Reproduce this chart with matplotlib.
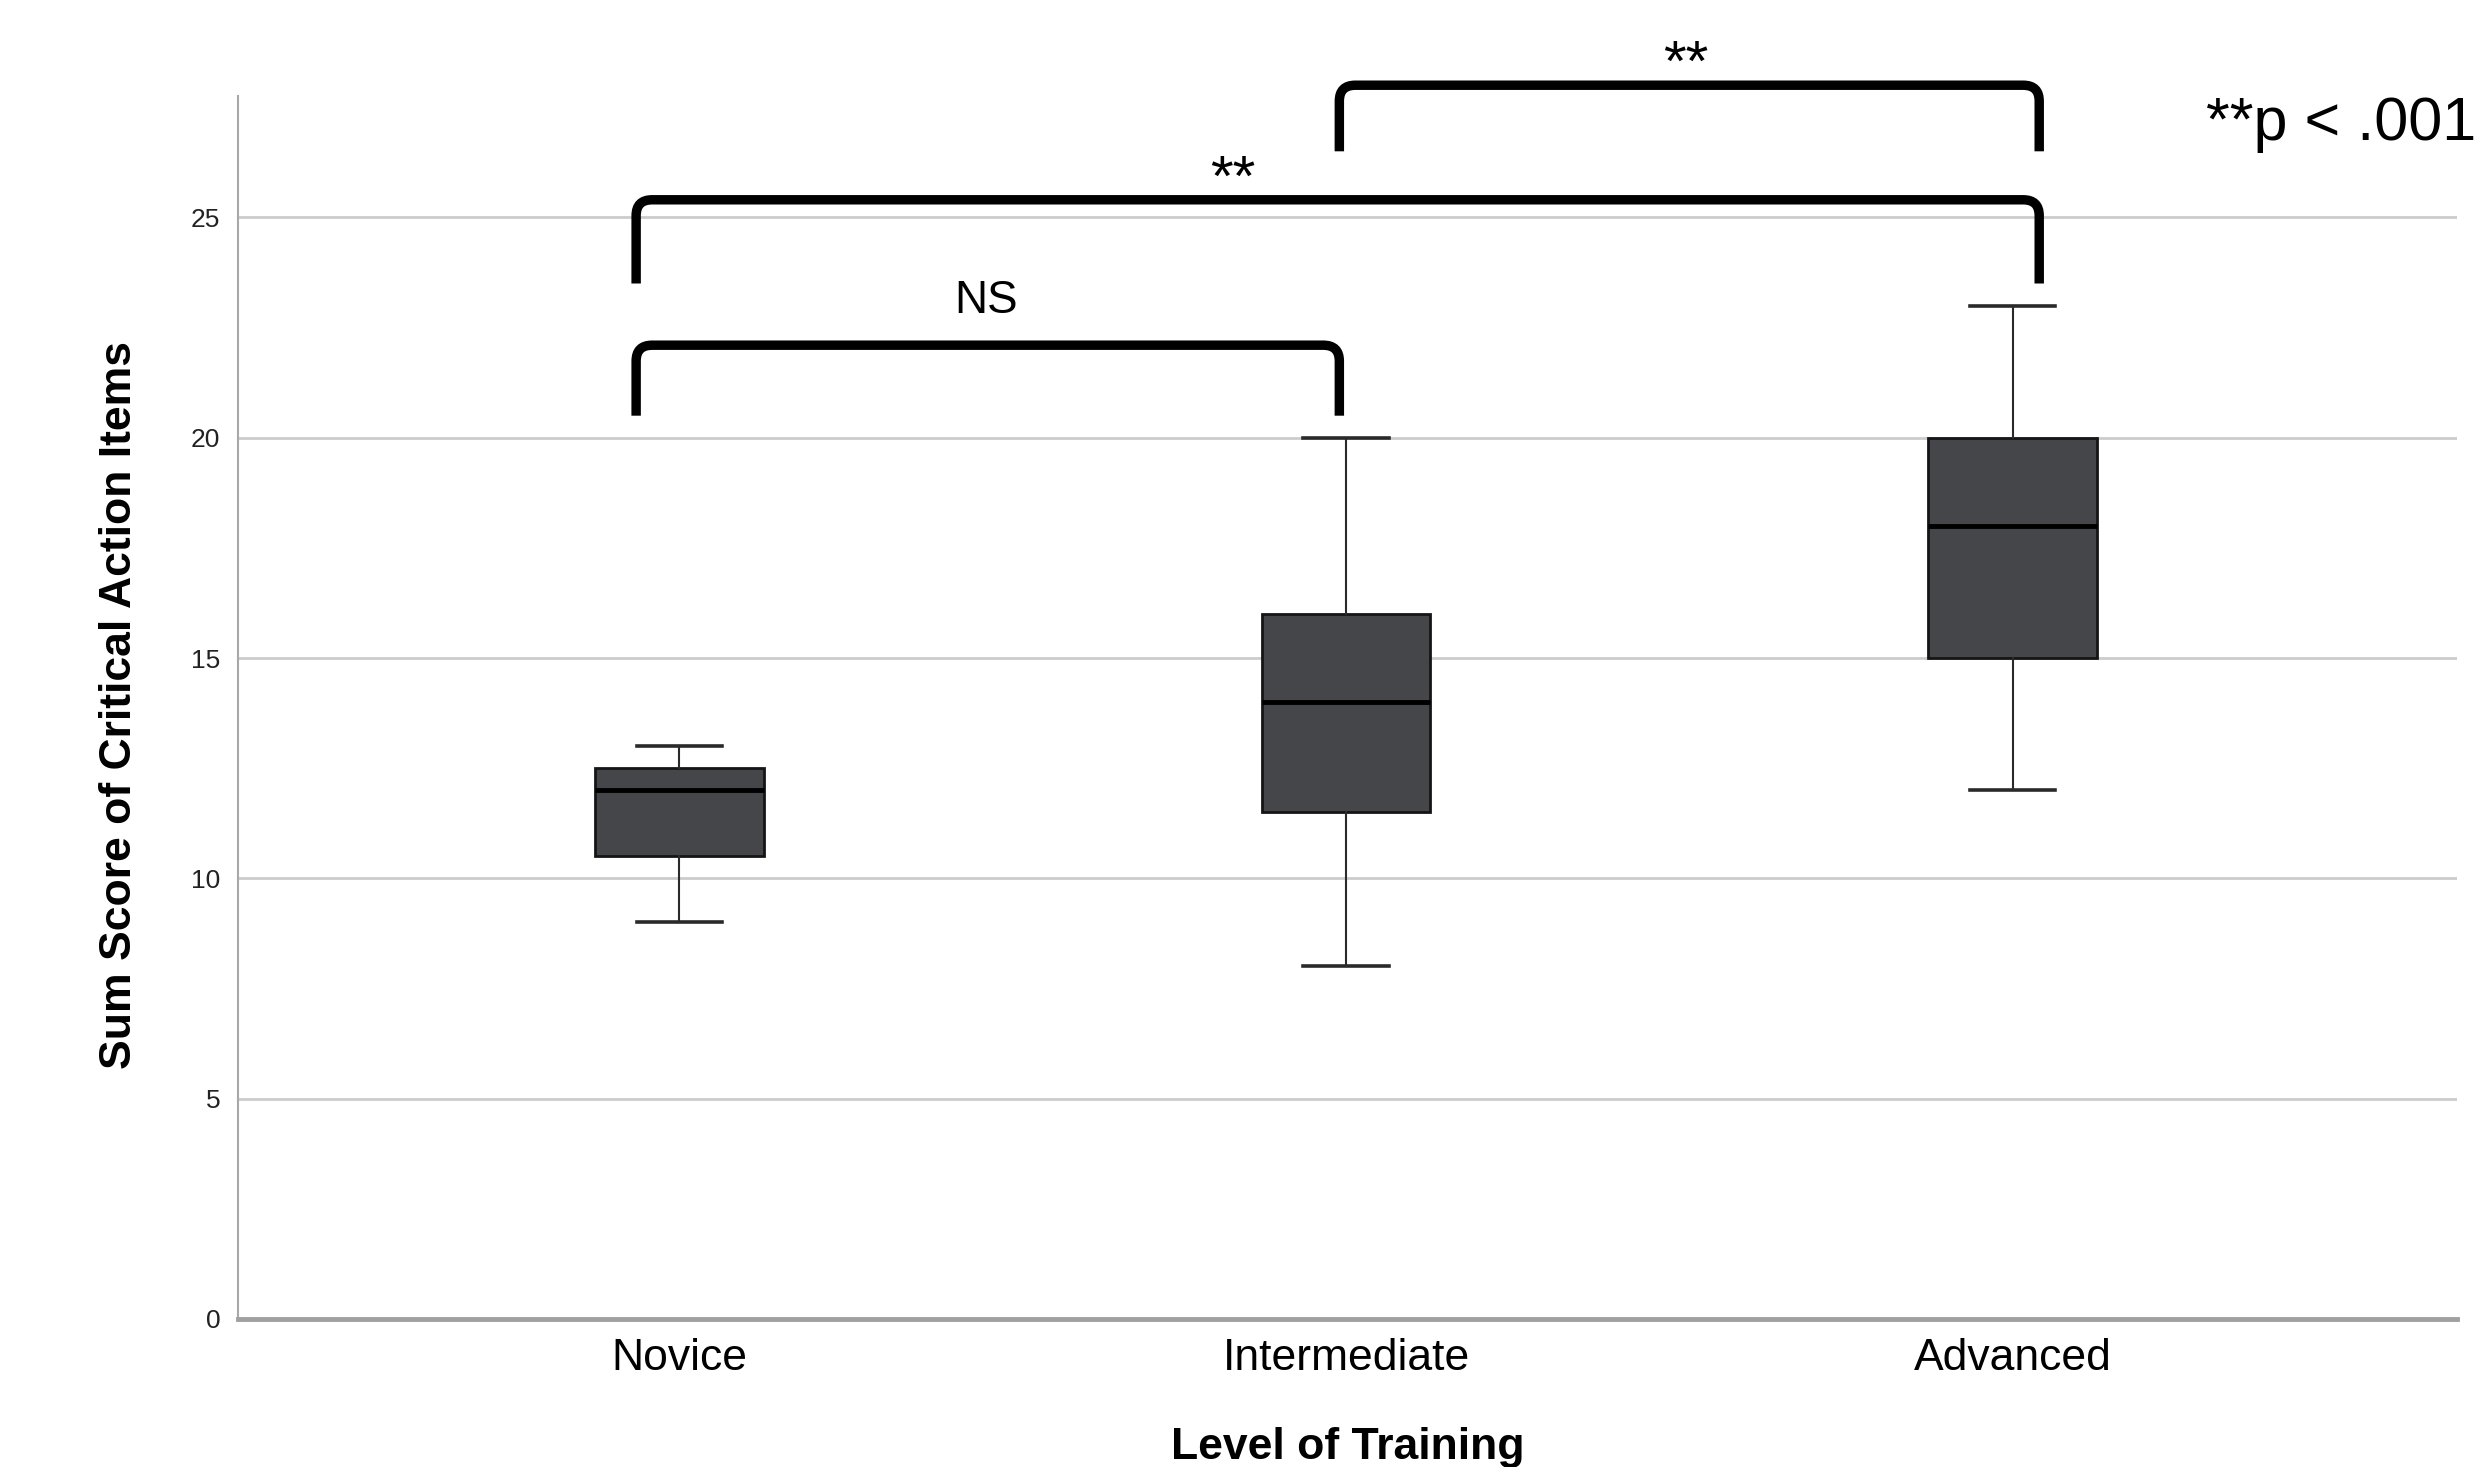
# box plot of critical action sum scores by level of training
# with significance brackets on top

import matplotlib.pyplot as plt
from matplotlib.path import Path
from matplotlib.patches import PathPatch

plt.rcParams['font.family'] = ['Liberation Sans', 'DejaVu Sans']

# box statistics
groups = ['Novice', 'Intermediate', 'Advanced']
whisker_low = [9, 8, 12]
quart_1 = [10.5, 11.5, 15]
medians = [12, 14, 18]
quart_3 = [12.5, 16, 20]
whisker_high = [13, 20, 23]

# significance brackets (ends in category units, heights in score units)
bracket_ends = [(-0.065, 0.99), (-0.065, 2.04), (0.99, 2.04)]
bracket_tops = [22.1, 25.4, 28.0]
bracket_feet = [20.5, 23.5, 26.5]
bracket_marks = ['NS', '**', '**']
mark_x = [0.46, 0.83, 1.51]
mark_y = [22.82, 25.5, 28.1]
mark_size = [33, 42, 42]

fig = plt.figure(figsize=(24.89, 14.67), dpi=100)
ax = fig.add_axes([0.0957, 0.1009, 0.8915, 0.8335])

stats = []
for i in range(len(groups)):
    stats.append({'label': groups[i], 'whislo': whisker_low[i], 'q1': quart_1[i],
                  'med': medians[i], 'q3': quart_3[i], 'whishi': whisker_high[i],
                  'fliers': []})

ax.bxp(stats, positions=range(len(groups)), widths=0.253, capwidths=0.128,
       showfliers=False, patch_artist=True,
       boxprops=dict(facecolor='#454649', edgecolor='#151515', linewidth=2.0),
       medianprops=dict(color='black', linewidth=3.5),
       whiskerprops=dict(color='#2a2a2a', linewidth=1.5),
       capprops=dict(color='#2a2a2a', linewidth=2.6), zorder=3)


def bracket(x0, x1, top, foot, rx=0.024, ry=0.36):
    verts = [(x0, foot), (x0, top - ry), (x0, top), (x0 + rx, top),
             (x1 - rx, top), (x1, top), (x1, top - ry), (x1, foot)]
    codes = [Path.MOVETO, Path.LINETO, Path.CURVE3, Path.CURVE3,
             Path.LINETO, Path.CURVE3, Path.CURVE3, Path.LINETO]
    ax.add_patch(PathPatch(Path(verts, codes), fill=False, lw=6.8, color='black',
                           capstyle='butt', joinstyle='round', clip_on=False, zorder=4))


for i in range(len(bracket_ends)):
    bracket(bracket_ends[i][0], bracket_ends[i][1], bracket_tops[i], bracket_feet[i])
    ax.text(mark_x[i], mark_y[i], bracket_marks[i], fontsize=mark_size[i], ha='center',
            va='baseline', clip_on=False)

fig.text(0.8863, 0.9046, '**p < .001', fontsize=44, va='baseline')

ax.set_xlim(-0.662, 2.667)
ax.set_ylim(0, 27.75)
ax.set_yticks([0, 5, 10, 15, 20, 25])
ax.tick_params(axis='y', length=0, pad=13, labelsize=19, labelcolor='#222222')
ax.tick_params(axis='x', length=0, pad=14, labelsize=32)

ax.yaxis.grid(True, color='#cccccc', lw=2.0)
ax.set_axisbelow(True)

ax.spines['top'].set_visible(False)
ax.spines['right'].set_visible(False)
ax.spines['left'].set_color('#a8a8a8')
ax.spines['left'].set_linewidth(1.5)
ax.spines['bottom'].set_color('#a0a0a0')
ax.spines['bottom'].set_linewidth(3.5)

ax.set_ylabel('Sum Score of Critical Action Items', fontsize=32, fontweight='bold', va='center')
ax.yaxis.set_label_coords(-0.0536, 0.502)
ax.set_xlabel('Level of Training', fontsize=32, fontweight='bold', va='baseline')
ax.xaxis.set_label_coords(0.5, -0.1144)

plt.savefig('out.png')
